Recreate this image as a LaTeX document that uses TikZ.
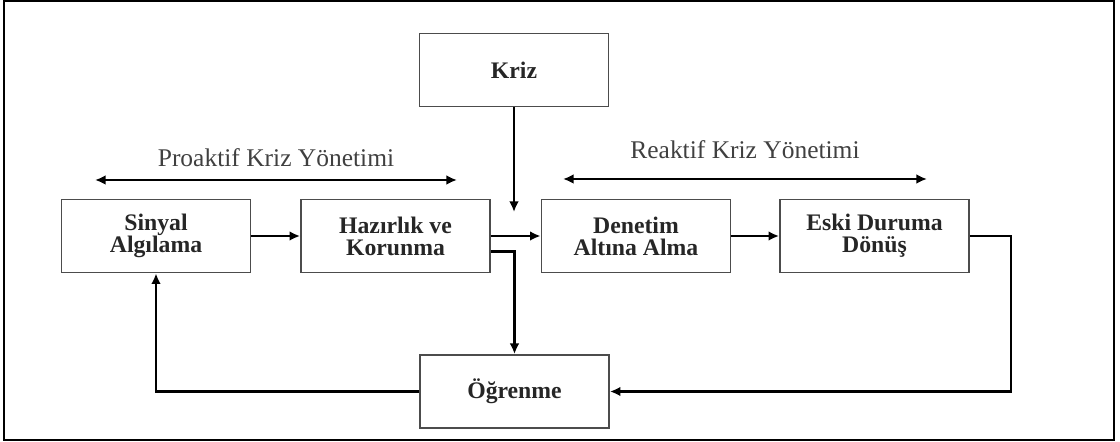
\documentclass[tikz,border=0pt]{standalone}
\usepackage{fontspec}
\setmainfont{Liberation Serif}
\usetikzlibrary{arrows.meta}
\begin{document}
\begin{tikzpicture}[x=0.02cm,y=-0.02cm,
  >={Latex[length=6pt,width=5.5pt]},
  box/.style={draw=black!70,line width=1.1pt,minimum width=3.78cm,minimum
  height=1.46cm,align=center,inner sep=0pt,text=black!85,
  font=\fontsize{13.5}{12.5}\selectfont\bfseries},
  arr/.style={line width=1.5pt,->},
  darr/.style={line width=1.5pt,<->},
  lbl/.style={font=\fontsize{14.5}{15}\selectfont,text=black!75,inner sep=0pt}]
  \useasboundingbox (0,0) rectangle (1120,442);
  \draw[line width=0.9pt] (4,1) rectangle (1114,440);

  \node[box] (kriz) at (514,70) {Kriz};
  \node[box] (sinyal) at (156,236) {Sinyal\\Algılama};
  \path (sinyal) ++(239.5,0) node[box] (hazirlik) {Hazırlık ve\\Korunma};
  \path (hazirlik) ++(240.5,0) node[box] (denetim) {Denetim\\Altına Alma};
  \path (denetim) ++(238.5,0) node[box] (eski) {Eski Duruma\\Dönüş};
  \node[box] (ogrenme) at (514.5,391.5) {Öğrenme};

  \coordinate (kriztip) at (514,212);
  \coordinate (pa) at (95,180);
  \coordinate (pb) at (457,180);
  \coordinate (ra) at (563,179);
  \coordinate (rb) at (927,179);

  \draw[darr] (pa) -- (pb) node[lbl,midway,above=7pt] (proaktif) {Proaktif Kriz Yönetimi};
  \draw[darr] (ra) -- (rb) node[lbl,midway,above=11pt] (reaktif) {Reaktif Kriz Yönetimi};

  \draw[arr] (kriz) -- (kriztip);
  \draw[arr] (sinyal) -- (hazirlik);
  \draw[arr] (hazirlik) -- (denetim);
  \draw[arr] (denetim) -- (eski);
  \draw[arr] ([yshift=-9pt]hazirlik.east) -| (ogrenme.north);
  \draw[arr] (eski.east) -- ++(41,0) |- (ogrenme.east);
  \draw[arr] (ogrenme.west) -| (sinyal.south);
\end{tikzpicture}
\end{document}
